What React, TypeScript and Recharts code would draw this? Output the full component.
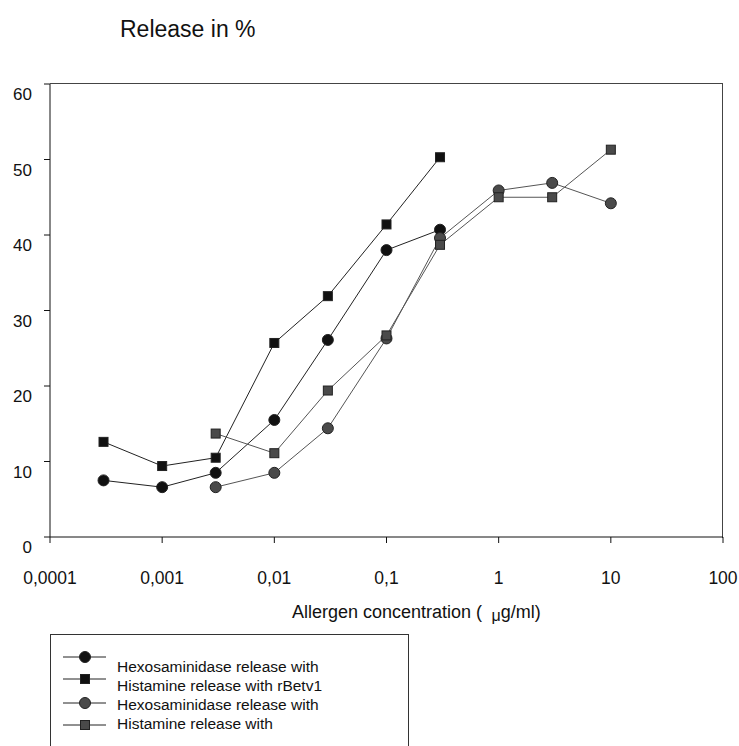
import { Line, LineChart, XAxis, YAxis } from "recharts";

document.body.style.margin = "0";

const FONT = "Arial, 'Liberation Sans', sans-serif";

const xTicks = [0.0001, 0.001, 0.01, 0.1, 1, 10, 100];
const xTickLabels = ["0,0001", "0,001", "0,01", "0,1", "1", "10", "100"];
const yTicks = [0, 10, 20, 30, 40, 50, 60];

const hexoRbet = [
  { c: 0.0003, v: 7.5 },
  { c: 0.001, v: 6.6 },
  { c: 0.003, v: 8.5 },
  { c: 0.01, v: 15.5 },
  { c: 0.03, v: 26.1 },
  { c: 0.1, v: 38.0 },
  { c: 0.3, v: 40.7 },
];
const histRbet = [
  { c: 0.0003, v: 12.6 },
  { c: 0.001, v: 9.4 },
  { c: 0.003, v: 10.5 },
  { c: 0.01, v: 25.7 },
  { c: 0.03, v: 31.9 },
  { c: 0.1, v: 41.4 },
  { c: 0.3, v: 50.3 },
];
const hexoOther = [
  { c: 0.003, v: 6.6 },
  { c: 0.01, v: 8.5 },
  { c: 0.03, v: 14.4 },
  { c: 0.1, v: 26.3 },
  { c: 0.3, v: 39.6 },
  { c: 1, v: 45.9 },
  { c: 3, v: 46.9 },
  { c: 10, v: 44.2 },
];
const histOther = [
  { c: 0.003, v: 13.7 },
  { c: 0.01, v: 11.1 },
  { c: 0.03, v: 19.4 },
  { c: 0.1, v: 26.7 },
  { c: 0.3, v: 38.7 },
  { c: 1, v: 45.0 },
  { c: 3, v: 45.0 },
  { c: 10, v: 51.3 },
];

const seriesNames = [
  "Hexosaminidase release with",
  "Histamine release with rBetv1",
  "Hexosaminidase release with",
  "Histamine release with",
];

const DARK = "#111111";
const GREY = "#4a4a4a";

function circleDot(fill: string) {
  return (p: any) => (
    <circle key={`c${p.index}`} cx={p.cx} cy={p.cy} r={5.5} fill={fill} stroke="#222" strokeWidth={1} />
  );
}
function squareDot(fill: string) {
  return (p: any) => (
    <rect key={`s${p.index}`} x={p.cx - 4.5} y={p.cy - 4.5} width={9} height={9} fill={fill} stroke="#222" strokeWidth={1} />
  );
}

function YTick(props: any) {
  const { x, y, payload } = props;
  return (
    <text x={x - 10} y={y + 16} textAnchor="end" fontSize={17} fontFamily={FONT} fill="#111">
      {payload.value}
    </text>
  );
}

function XTick(props: any) {
  const { x, y, payload } = props;
  const i = xTicks.indexOf(payload.value);
  return (
    <text x={x} y={y + 39} textAnchor="middle" fontSize={17.5} fontFamily={FONT} fill="#111">
      {i >= 0 ? xTickLabels[i] : payload.value}
    </text>
  );
}

function LegendBox() {
  const rows = [
    { m: 657, t: 672, fill: DARK, sq: false },
    { m: 679, t: 691, fill: DARK, sq: true },
    { m: 703, t: 710, fill: GREY, sq: false },
    { m: 725, t: 729, fill: GREY, sq: true },
  ];
  return (
    <svg width={360} height={115} style={{ display: "block" }}>
      <rect x={0.5} y={0.5} width={358} height={130} fill="none" stroke="#333" />
      {rows.map((r, i) => {
        const my = r.m - 634;
        return (
          <g key={i}>
            <line x1={13} x2={56} y1={my} y2={my} stroke="#222" />
            {r.sq ? (
              <rect x={30.5} y={my - 4.5} width={9} height={9} fill={r.fill} stroke="#222" />
            ) : (
              <circle cx={35} cy={my} r={5.5} fill={r.fill} stroke="#222" />
            )}
            <text x={67} y={r.t - 634} fontSize={15.5} fontFamily={FONT} fill="#111">
              {seriesNames[i]}
            </text>
          </g>
        );
      })}
    </svg>
  );
}

export default function App() {
  return (
    <div style={{ position: "relative", width: 739, height: 746, background: "#fff", overflow: "hidden" }}>
      <div style={{ position: "absolute", left: 120, top: 16, fontFamily: FONT, fontSize: 23, color: "#111" }}>
        Release in %
      </div>
      <div style={{ position: "absolute", left: 292, top: 602, fontFamily: FONT, fontSize: 18, color: "#111", whiteSpace: "nowrap" }}>
        Allergen concentration ( <span style={{ position: "relative", top: 3, fontSize: 16 }}>&nbsp;μ</span>g/ml)
      </div>
      <div
        style={{
          position: "absolute",
          left: 50,
          top: 83,
          width: 672,
          height: 454,
          borderTop: "1px solid #444",
          borderRight: "1px solid #444",
        }}
      />
      <LineChart width={739} height={746} margin={{ top: 84, right: 16, bottom: 149, left: 0 }}>
        <XAxis
          dataKey="c"
          type="number"
          scale="log"
          domain={[0.0001, 100]}
          ticks={xTicks}
          allowDataOverflow
          tick={<XTick />}
          tickSize={6}
          height={60}
          stroke="#111"
        />
        <YAxis
          dataKey="v"
          type="number"
          domain={[0, 60]}
          ticks={yTicks}
          tick={<YTick />}
          tickSize={6}
          width={50}
          stroke="#111"
        />
        <Line data={hexoRbet} dataKey="v" stroke="#222" strokeWidth={1} dot={circleDot(DARK)} isAnimationActive={false} />
        <Line data={histRbet} dataKey="v" stroke="#222" strokeWidth={1} dot={squareDot(DARK)} isAnimationActive={false} />
        <Line data={hexoOther} dataKey="v" stroke="#555" strokeWidth={1} dot={circleDot(GREY)} isAnimationActive={false} />
        <Line data={histOther} dataKey="v" stroke="#555" strokeWidth={1} dot={squareDot(GREY)} isAnimationActive={false} />
      </LineChart>
      <div style={{ position: "absolute", left: 50, top: 634 }}>
        <LegendBox />
      </div>
    </div>
  );
}
